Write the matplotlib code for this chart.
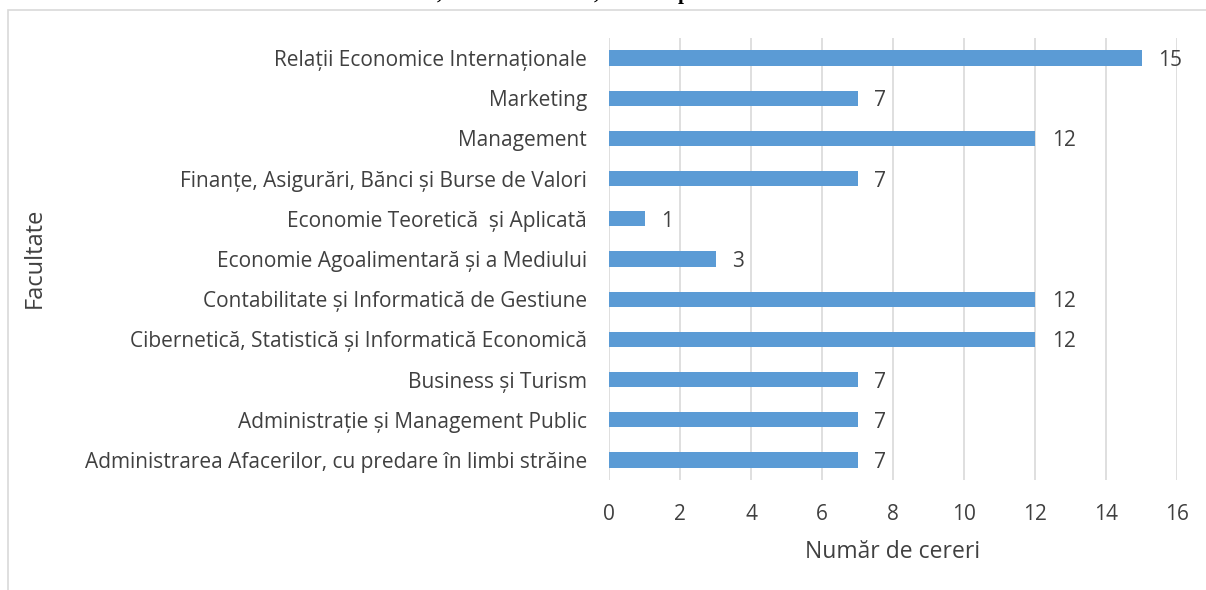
import matplotlib
matplotlib.use("Agg")
import matplotlib.pyplot as plt
from matplotlib.patches import Rectangle

faculties = [
    "Administrarea Afacerilor, cu predare în limbi străine",
    "Administrație și Management Public",
    "Business și Turism",
    "Cibernetică, Statistică și Informatică Economică",
    "Contabilitate și Informatică de Gestiune",
    "Economie Agoalimentară și a Mediului",
    "Economie Teoretică  și Aplicată",
    "Finanțe, Asigurări, Bănci și Burse de Valori",
    "Management",
    "Marketing",
    "Relații Economice Internaționale",
]
requests = [7, 7, 7, 12, 12, 3, 1, 7, 12, 7, 15]
x_ticks = [0, 2, 4, 6, 8, 10, 12, 14, 16]

plt.rcParams['font.family'] = ['Open Sans', 'DejaVu Sans']

fig = plt.figure(figsize=(12.06, 5.90), dpi=100)
ax = fig.add_axes([609/1206, 1-480/590, (1177-609)/1206, (480-38)/590])

ypos = list(range(len(faculties)))
ax.barh(ypos, requests, height=0.38, color='#5b9bd5', zorder=3)
for y, v in zip(ypos, requests):
    ax.annotate(str(v), (v, y), xytext=(12, 0), textcoords='offset points',
                ha='left', va='center_baseline', fontsize=15, color='#404040')

ax.set_xlim(0, 16)
ax.set_ylim(-0.5, len(faculties) - 0.5)
ax.set_xticks(x_ticks)
ax.set_xticklabels([str(t) for t in x_ticks])
ax.set_yticks(ypos)
ax.set_yticklabels(faculties, va='center_baseline')
ax.grid(axis='x', color='#d9d9d9', linewidth=1.2, zorder=0)
for s in ax.spines.values():
    s.set_visible(False)
ax.tick_params(axis='both', length=0, labelsize=15, labelcolor='#404040')
ax.tick_params(axis='y', pad=16)
ax.tick_params(axis='x', pad=17)
ax.set_xlabel("Număr de cereri", fontsize=16.5, color='#404040', labelpad=11)

fig.text(35/1206, 1-258/590, "Facultate", rotation=90, ha='center', va='center',
         fontsize=17, color='#404040')

# cut-off fragments of the document title above the chart
for gx, g in [(439, ","), (596, ","), (684, "p")]:
    fig.text(gx/1206, 1 + 1/590, g, ha='center', va='baseline', fontsize=15,
             fontweight='bold', family='Liberation Serif', color='black')

fig.patches.append(Rectangle((8/1206, -0.1), 1.0, 1.1 - 10/590,
                             transform=fig.transFigure, fill=False,
                             edgecolor='#d9d9d9', linewidth=1.2))

fig.savefig("out.png", dpi=100)
